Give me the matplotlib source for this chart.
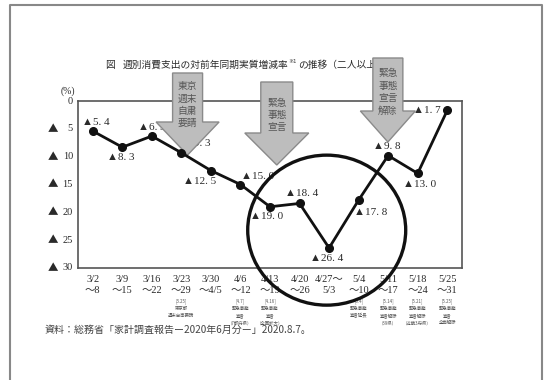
import matplotlib
matplotlib.use("Agg")
import matplotlib.pyplot as plt
import matplotlib.transforms as mtransforms
from matplotlib.patches import Polygon, Ellipse
from matplotlib.lines import Line2D
from matplotlib.text import Annotation

# ---- data -------------------------------------------------------------
week_start = ["3/2", "3/9", "3/16", "3/23", "3/30", "4/6", "4/13",
              "4/20", "4/27～", "5/4", "5/11", "5/18", "5/25"]
week_end = ["～8", "～15", "～22", "～29", "～4/5", "～12", "～19",
            "～26", "5/3", "～10", "～17", "～24", "～31"]
decline = [5.4, 8.3, 6.3, 9.3, 12.5, 15.0, 19.0, 18.4, 26.4, 17.8, 9.8, 13.0, 1.7]
y_ticks = [0, 5, 10, 15, 20, 25, 30]

event_notes = {
    3: "[3.25]\n東京都\n週末自粛要請",
    5: "[4.7]\n緊急事態\n宣言\n（7都府県）",
    6: "[4.16]\n緊急事態\n宣言\n（全国拡大）",
    9: "[5.4]\n緊急事態\n宣言延長",
    10: "[5.14]\n緊急事態\n宣言解除\n（39県）",
    11: "[5.21]\n緊急事態\n宣言解除\n（近畿3府県）",
    12: "[5.25]\n緊急事態\n宣言\n全面解除",
}

# callout arrows: centre x (week index) and rows of text
callouts = [
    (3.21, ["東京", "週末", "自粛", "要請"]),
    (6.23, ["緊急", "事態", "宣言"]),
    (9.99, ["緊急", "事態", "宣言", "解除"]),
]

title_head = "図"
title_main = "週別消費支出の対前年同期実質増減率"
title_note = "※1"
title_rest = "の推移（二人以上の世帯）"
source_text = "資料：総務省「家計調査報告ー2020年6月分ー」2020.8.7。"

# ---- styling ----------------------------------------------------------
W, H = 546, 380
JP = ["Noto Sans CJK JP", "DejaVu Sans"]
SERIF = ["Liberation Serif", "Noto Sans CJK JP", "DejaVu Sans"]
TXT = "#2a2a2a"


def fx(px):
    return px / W


def fy(py):
    return 1 - py / H


fig = plt.figure(figsize=(W / 100, H / 100), dpi=100)
fig.patch.set_facecolor("white")

ax = fig.add_axes([fx(78), fy(268), fx(462) - fx(78), fy(101) - fy(268)])
ax.set_xlim(-0.5, len(decline) - 0.5)
ax.set_ylim(30, 0)
ax.set_zorder(2)
ax.patch.set_alpha(0)
for s in ax.spines.values():
    s.set_color("#555555")
    s.set_linewidth(1.2)

x = list(range(len(decline)))
ax.plot(x, decline, color="#111111", lw=2.0, marker="o", ms=5.5,
        zorder=6, clip_on=False)

# value labels
label_offsets = [(3, 9), (-2, -10), (0, 9), (15, 9), (-11, -11), (17, 8),
                 (-3, -10), (2, 10), (-2, -11), (12, -12), (-1, 9), (2, -11),
                 (-20, 0)]
for xi, v, off in zip(x, decline, label_offsets):
    ax.annotate("▲" + f"{v:.1f}".replace(".", ". "), (xi, v),
                xytext=off, textcoords="offset pixels",
                ha="center", va="center", fontsize=8, family=SERIF,
                color=TXT, zorder=3, annotation_clip=False)

# y axis labels: number plus a ▲ sign for negative growth
ax.set_yticks(y_ticks)
ax.set_yticklabels([])
ax.tick_params(axis="y", length=0)
ytrans = mtransforms.blended_transform_factory(fig.transFigure, ax.transData)
for t in y_ticks:
    fig.text(fx(73), t, str(t), transform=ytrans, ha="right", va="center",
             fontsize=7.5, family=SERIF, color=TXT)
    if t:
        fig.text(fx(53), t, "▲", transform=ytrans, ha="center", va="center",
                 fontsize=7.5, family=JP, color=TXT)
fig.text(fx(68), fy(91), "(%)", ha="center", va="center", fontsize=7,
         family=SERIF, color=TXT)

# x axis labels
ax.set_xticks(x)
ax.set_xticklabels([f"{a}\n{b}" for a, b in zip(week_start, week_end)],
                   family=SERIF, fontsize=7.5, color=TXT, linespacing=1.25)
ax.tick_params(axis="x", length=0, pad=5)

xtrans = mtransforms.blended_transform_factory(ax.transData, ax.transAxes)
for i, note in event_notes.items():
    ax.annotate(note, (i, 0), xycoords=xtrans, xytext=(0, -30),
                textcoords="offset pixels", ha="center", va="top",
                fontsize=3.2, family=JP, color="#555555", linespacing=1.55,
                annotation_clip=False)

# callout arrows
px_per_y = (268 - 101) / 30.0
px_per_x = (462 - 78) / len(decline)
arrow_geom = [  # top, shoulder, tip (px); half body, half head (px); first row, row step
    (73, 122, 155, 15, 31.5, 86, 12.4),
    (82, 133, 165, 16, 32, 103, 12.0),
    (58, 111, 142, 15, 27.5, 73, 12.7),
]


def ydat(py):
    return (py - 101) / px_per_y


for (cx, rows), (top, sh, tip, hb, hh, row0, step) in zip(callouts, arrow_geom):
    b = hb / px_per_x
    h = hh / px_per_x
    pts = [(cx - b, ydat(top)), (cx + b, ydat(top)), (cx + b, ydat(sh)),
           (cx + h, ydat(sh)), (cx, ydat(tip)), (cx - h, ydat(sh)),
           (cx - b, ydat(sh))]
    ax.add_patch(Polygon(pts, closed=True, facecolor="#bdbdbd",
                         edgecolor="#8a8a8a", lw=1.0, zorder=5, clip_on=False))
    for k, r in enumerate(rows):
        ax.text(cx, ydat(row0 + k * step), r, ha="center", va="center",
                fontsize=7, family=JP, color="#555555", zorder=5.5,
                clip_on=False)

# highlight circle
ax.add_patch(Ellipse((7.92, 23.2), 2 * 79 / px_per_x, 2 * 75 / px_per_y,
                     fill=False, edgecolor="#111111", lw=2.4, zorder=7,
                     clip_on=False))

# title (drawn beneath the axes layer so the callout box sits on top)
fig.text(fx(105), fy(65), title_head, ha="left", va="center",
         fontsize=7, family=JP, color=TXT, zorder=0)
t1 = fig.text(fx(123), fy(65), title_main, ha="left", va="center",
              fontsize=7, family=JP, color=TXT, zorder=0)
a2 = fig.add_artist(Annotation(title_note, (1, 0.6), xycoords=t1,
                               va="bottom", ha="left", fontsize=3.8,
                               family=JP, color=TXT, zorder=0))
a3 = fig.add_artist(Annotation(title_rest, (1.0, 0), xycoords=t1,
                               xytext=(9, 0), textcoords="offset pixels",
                               va="bottom", ha="left", fontsize=7,
                               family=JP, color=TXT, zorder=0))
a3.set_clip_box(mtransforms.TransformedBbox(
    mtransforms.Bbox([[0, 0], [fx(400), 1]]), fig.transFigure))

# source line
fig.text(fx(45), fy(330), source_text, ha="left", va="center", fontsize=7.2,
         family=JP, color="#444444")

# page frame
fig.add_artist(Line2D([fx(10), fx(10), fx(542), fx(542)],
                      [fy(400), fy(5), fy(5), fy(400)],
                      transform=fig.transFigure, color="#888888", lw=1.5))

fig.savefig("out.png", dpi=100, facecolor="white")
